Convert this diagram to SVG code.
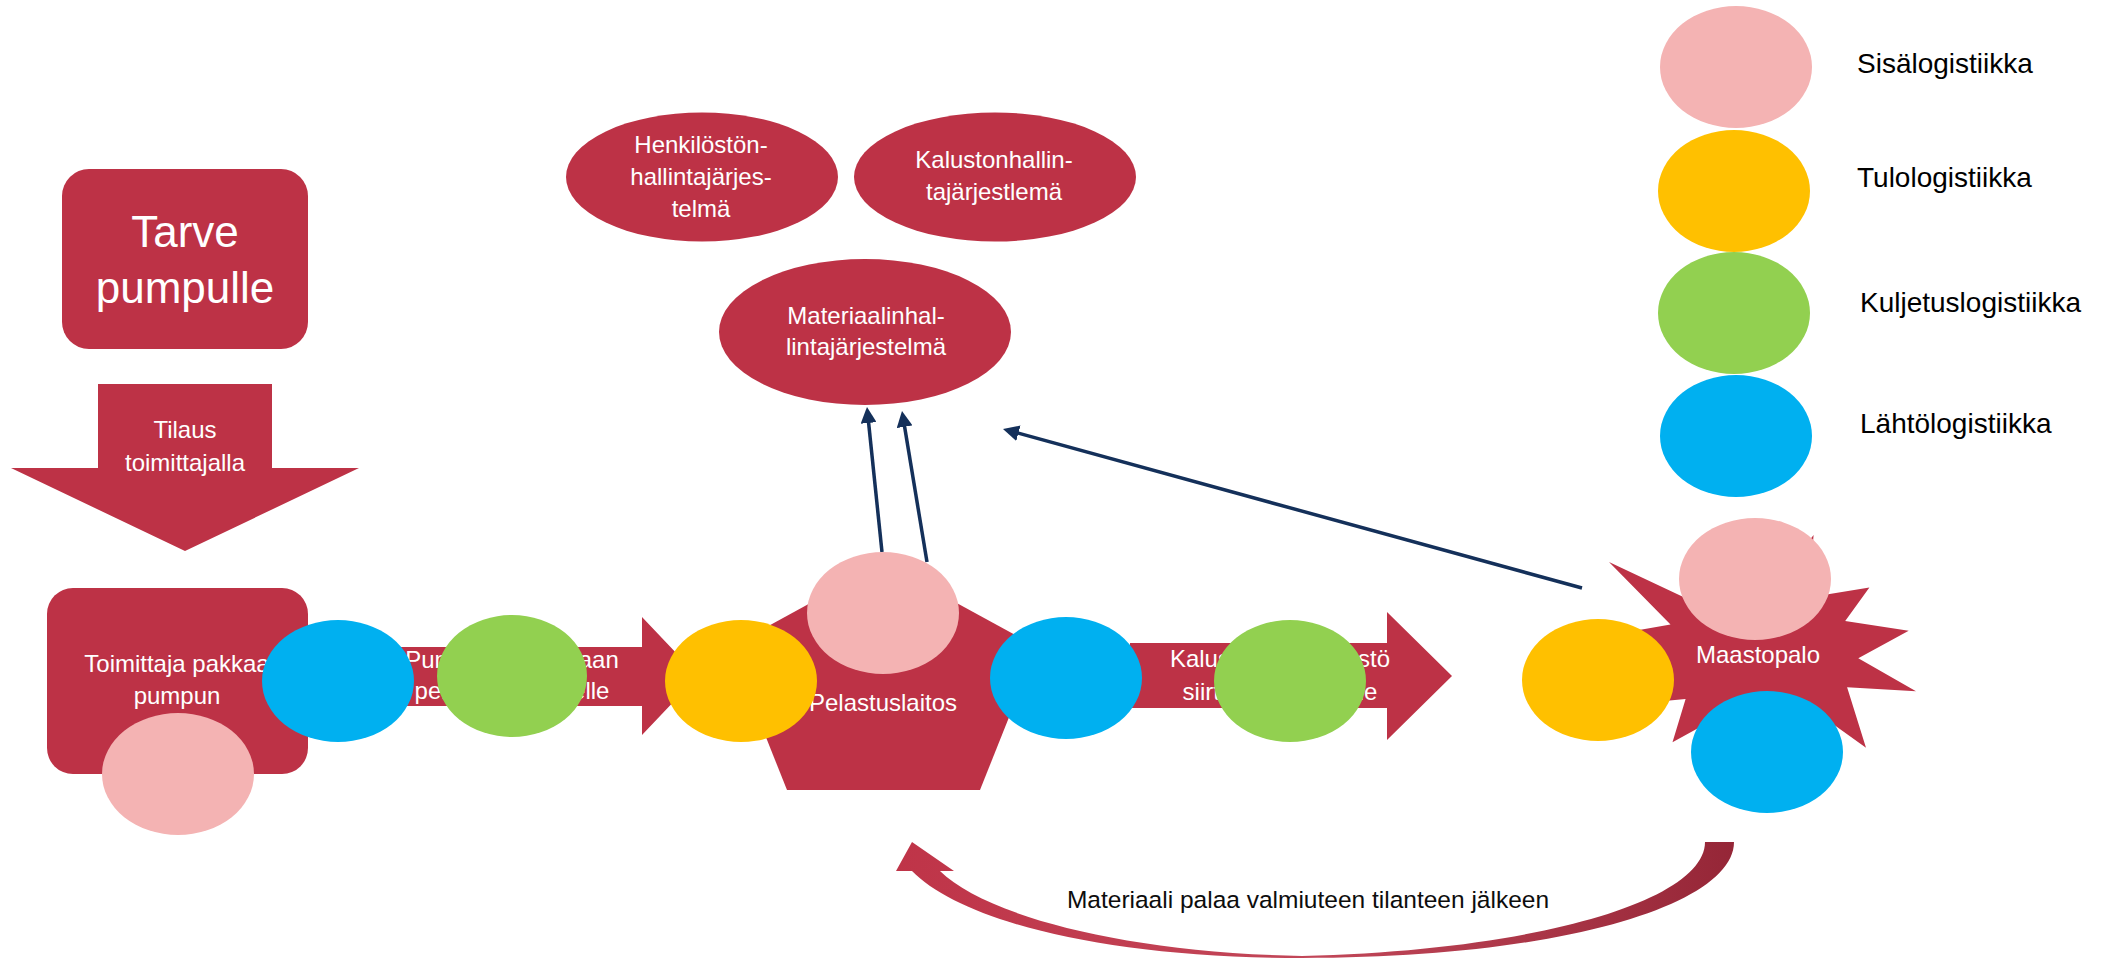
<svg xmlns="http://www.w3.org/2000/svg" width="2108" height="960" viewBox="0 0 2108 960">
<style>
.red{fill:#BD3246}
.pink{fill:#F4B3B3}
.yellow{fill:#FFC000}
.green{fill:#92D050}
.blue{fill:#00B0F0}
.wt{fill:#FFFFFF;font-family:"Liberation Sans",Arial,sans-serif;font-size:24px;text-anchor:middle}
.big{font-size:44px}
.lg{fill:#000000;font-family:"Liberation Sans",Arial,sans-serif;font-size:28px}
.bt{fill:#0D0D0D;font-family:"Liberation Sans",Arial,sans-serif;font-size:24.5px;text-anchor:middle}
.conn{stroke:#14305A;stroke-width:3.5;fill:none;marker-end:url(#ah)}
</style>
<defs>
<marker id="ah" viewBox="0 0 10 10" refX="5" refY="5" markerWidth="16" markerHeight="16" markerUnits="userSpaceOnUse" orient="auto">
<path d="M0,0 L10,5 L0,10 z" fill="#14305A"/>
</marker>
<linearGradient id="cg" x1="0" y1="0" x2="1" y2="0">
<stop offset="0" stop-color="#BF3448"/>
<stop offset="0.5" stop-color="#C24759"/>
<stop offset="1" stop-color="#952637"/>
</linearGradient>
</defs>
<rect width="2108" height="960" fill="#FFFFFF"/>

<g id="tarve">
<rect x="62" y="169" width="246" height="180" rx="27" class="red"/>
<text class="wt big" x="185" y="247">Tarve</text>
<text class="wt big" x="185" y="303">pumpulle</text>
</g>

<g id="tilaus">
<path d="M98,384 L272,384 L272,468 L359,468 L185,551 L11,468 L98,468 Z" class="red"/>
<text class="wt" x="185" y="438">Tilaus</text>
<text class="wt" x="185" y="471">toimittajalla</text>
</g>

<g id="toimittaja">
<rect x="47" y="588" width="261" height="186" rx="26" class="red"/>
<text class="wt" x="177" y="672">Toimittaja pakkaa</text>
<text class="wt" x="177" y="704">pumpun</text>
<ellipse cx="178" cy="774" rx="76" ry="61" class="pink"/>
</g>

<g id="kuljetus1">
<path d="M395,647 L642,647 L642,617 L698,676 L642,735 L642,706 L395,706 Z" class="red"/>
<text class="wt" x="512" y="668">Pumppu toimitetaan</text>
<text class="wt" x="512" y="699">pelastuslaitokselle</text>
<ellipse cx="512" cy="676" rx="75" ry="61" class="green"/>
</g>
<g id="lahto1">
<ellipse cx="338" cy="681" rx="76" ry="61" class="blue"/>
</g>

<g id="kuljetus2">
<path d="M1130,643 L1387,643 L1387,612 L1452,676 L1387,740 L1387,708 L1130,708 Z" class="red"/>
<text class="wt" x="1280" y="667">Kalusto ja henkilöstö</text>
<text class="wt" x="1280" y="700">siirtyy palopaikalle</text>
<ellipse cx="1290" cy="681" rx="76" ry="61" class="green"/>
</g>

<g id="connectors">
<line x1="882" y1="552" x2="867.8" y2="415" class="conn"/>
<line x1="927" y1="562" x2="903.3" y2="418.9" class="conn"/>
<line x1="1582" y1="588" x2="1010.7" y2="431.1" class="conn"/>
<path d="M1705,842 L1734,842 C1734,905 1560,958 1302,958 C1100,958 960,920 912,871 L896,871 L912,842 L954,871 L940,871 C985,915 1120,952 1302,956 C1540,950 1705,900 1705,842 Z" fill="url(#cg)"/>
</g>
<text class="bt" x="1308" y="908">Materiaali palaa valmiuteen tilanteen jälkeen</text>

<g id="pelastuslaitos">
<path d="M883.5,563 L1037,647 L980,790 L787,790 L730,647 Z" class="red"/>
<text class="wt" x="883" y="711">Pelastuslaitos</text>
<ellipse cx="883" cy="613" rx="76" ry="61" class="pink"/>
<ellipse cx="741" cy="681" rx="76" ry="61" class="yellow"/>
<ellipse cx="1066" cy="678" rx="76" ry="61" class="blue"/>
</g>

<g id="henkilosto">
<ellipse cx="702" cy="177" rx="136" ry="64.5" class="red"/>
<text class="wt" x="701" y="153">Henkilöstön-</text>
<text class="wt" x="701" y="185">hallintajärjes-</text>
<text class="wt" x="701" y="217">telmä</text>
</g>
<g id="kalusto">
<ellipse cx="995" cy="177" rx="141" ry="64.5" class="red"/>
<text class="wt" x="994" y="168">Kalustonhallin-</text>
<text class="wt" x="994" y="200">tajärjestlemä</text>
</g>
<g id="materiaali">
<ellipse cx="865" cy="332" rx="146" ry="73" class="red"/>
<text class="wt" x="866" y="324">Materiaalinhal-</text>
<text class="wt" x="866" y="355">lintajärjestelmä</text>
</g>

<g id="maastopalo">
<path d="M1759.8,603.2 L1813.6,535 L1808.3,597.6 L1869.4,587.4 L1845.2,621 L1908.7,630.7 L1858.3,658.2 L1916,691.3 L1847.1,687.2 L1866,747.8 L1806.4,705 L1795.2,767.1 L1755.9,710.6 L1726.3,789 L1715.2,718.8 L1672.5,742.2 L1685.6,698.9 L1605.6,706.5 L1657.4,673.5 L1603.6,636.3 L1670.5,624.6 L1609,562 L1709.4,609.3 L1724.4,562 Z" class="red"/>
<text class="wt" x="1758" y="663">Maastopalo</text>
<ellipse cx="1598" cy="680" rx="76" ry="61" class="yellow"/>
<ellipse cx="1755" cy="579" rx="76" ry="61" class="pink"/>
<ellipse cx="1767" cy="752" rx="76" ry="61" class="blue"/>
</g>

<g id="legend">
<ellipse cx="1736" cy="67" rx="76" ry="61" class="pink"/>
<ellipse cx="1734" cy="191" rx="76" ry="61" class="yellow"/>
<ellipse cx="1734" cy="313" rx="76" ry="61" class="green"/>
<ellipse cx="1736" cy="436" rx="76" ry="61" class="blue"/>
<text class="lg" x="1857" y="73">Sisälogistiikka</text>
<text class="lg" x="1857" y="187">Tulologistiikka</text>
<text class="lg" x="1860" y="312">Kuljetuslogistiikka</text>
<text class="lg" x="1860" y="433">Lähtölogistiikka</text>
</g>
</svg>
